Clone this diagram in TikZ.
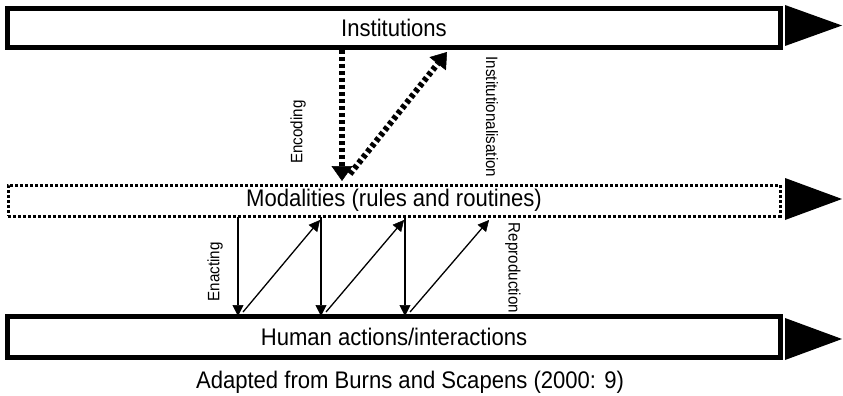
\documentclass[tikz,border=0pt]{standalone}
\usepackage{fontspec}
\setmainfont[FakeStretch=0.92]{Liberation Sans}
\usetikzlibrary{arrows.meta}
\begin{document}
\begin{tikzpicture}[x=1pt,y=-1pt,
  bar/.style={draw=black,line width=4.5pt,minimum width=773pt,inner sep=0pt,font=\fontsize{24}{28}\selectfont},
  dotbar/.style={draw=black,line width=3pt,dash pattern=on 3pt off 2pt,minimum width=772pt,minimum height=31pt,inner sep=0pt,font=\fontsize{24}{28}\selectfont},
  head/.style={fill=black},
  thickdot/.style={line width=6pt,dash pattern=on 4pt off 3pt,-{Triangle[width=21pt,length=15pt,line width=0.5pt]}},
  thinarrow/.style={line width=1.3pt,-{Triangle[width=11pt,length=11pt,line width=0.5pt]}},
  lab/.style={font=\fontsize{16.5}{19}\selectfont,inner sep=0pt}
]
\useasboundingbox (0,0) rectangle (843,396);
% bars
\node[bar,minimum height=39pt] (inst) at (394,28) {Institutions};
\node[dotbar] (mod) at (394,200.5) {Modalities (rules and routines)};
\node[bar,minimum height=41pt] (hum) at (394,337) {Human actions/interactions};
% arrow triangles
\fill[head] (785,5) -- (785,46) -- (842,25.5) -- cycle;
\fill[head] (785,178) -- (785,220) -- (842,199) -- cycle;
\fill[head] (785,318) -- (785,360) -- (842,339) -- cycle;
% coordinates
\coordinate (e1) at (342,50);
\coordinate (e2) at (342,181);
\coordinate (i1) at (350,174);
\coordinate (i2) at (447,52);
\draw[thickdot] (e1) -- (e2);
\draw[thickdot] (i1) -- (i2);
\node[lab,rotate=90] (enc) at (298,132) {Encoding};
\node[lab,rotate=-90] (instl) at (492,117) {Institutionalisation};
% lower arrows
\coordinate (v1a) at (238,217);
\coordinate (v1b) at (238,316);
\coordinate (v2a) at (321,217);
\coordinate (v2b) at (321,316);
\coordinate (v3a) at (405,217);
\coordinate (v3b) at (405,316);
\coordinate (d1a) at (243,312);
\coordinate (d1b) at (320,220);
\coordinate (d2a) at (326,312);
\coordinate (d2b) at (404,220);
\coordinate (d3a) at (410,312);
\coordinate (d3b) at (489,220);
\draw[thinarrow] (v1a) -- (v1b);
\draw[thinarrow] (v2a) -- (v2b);
\draw[thinarrow] (v3a) -- (v3b);
\draw[thinarrow] (d1a) -- (d1b);
\draw[thinarrow] (d2a) -- (d2b);
\draw[thinarrow] (d3a) -- (d3b);
\node[lab,rotate=90] (enact) at (215,272) {Enacting};
\node[lab,rotate=-90] (repro) at (513,268) {Reproduction};
% caption
\node[font=\fontsize{24}{28}\selectfont,inner sep=0pt] (cap) at (410,382) {Adapted from Burns and Scapens (2000: 9)};
\end{tikzpicture}
\end{document}
